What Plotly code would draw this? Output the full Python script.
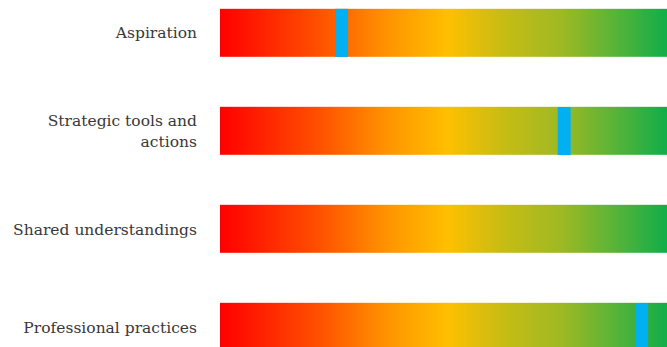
import numpy as np
import plotly.graph_objects as go

categories = ["Aspiration", "Strategic tools and<br>actions", "Shared understandings", "Professional practices"]
scores = [27.2, 77.0, None, 94.3]   # position of the blue marker on a 0-100 scale

# gradient background (style): fine columns across the scale
xs = np.linspace(0, 100, 301)
z = [list(xs) for _ in categories]

colorscale = [
    [0.0, "rgb(255,0,0)"],
    [0.22, "rgb(255,80,0)"],
    [0.38, "rgb(255,150,0)"],
    [0.51, "rgb(255,192,0)"],
    [0.63, "rgb(200,188,20)"],
    [0.76, "rgb(160,185,35)"],
    [0.88, "rgb(90,180,55)"],
    [1.0, "rgb(17,173,75)"],
]

fig = go.Figure()
fig.add_trace(go.Heatmap(
    x=xs, y=categories, z=z, colorscale=colorscale, showscale=False,
    ygap=50, hoverinfo="skip", zmin=0, zmax=100,
))

mw = 2.9
fig.add_trace(go.Bar(
    y=categories,
    x=[mw if s is not None else None for s in scores],
    base=[s - mw / 2 if s is not None else None for s in scores],
    orientation="h", width=0.49,
    marker=dict(color="#00B0F0", line=dict(width=0)),
    showlegend=False,
))

fig.update_layout(
    width=667, height=347,
    margin=dict(l=220, r=0, t=0, b=0),
    plot_bgcolor="white", paper_bgcolor="white",
    font=dict(family="DejaVu Serif", size=15.5, color="#383838"),
    showlegend=False,
)
fig.update_xaxes(range=[0, 100], visible=False, showgrid=False, zeroline=False)
fig.update_yaxes(
    type="category", categoryorder="array", categoryarray=categories,
    range=[3.200, -0.335], showgrid=False, zeroline=False, showline=False,
    ticks="", ticklabelstandoff=22,
)

fig.write_html("out.html")
